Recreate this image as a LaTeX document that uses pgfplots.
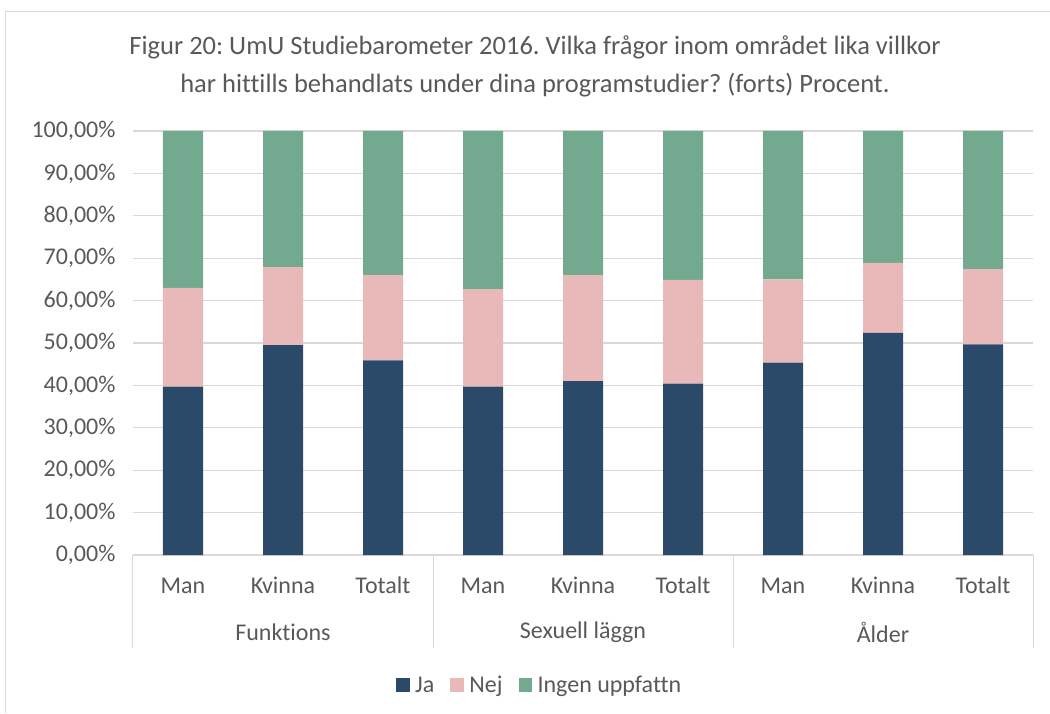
\documentclass[border=0pt]{standalone}
\usepackage{fontspec}
\setmainfont[Ligatures=CommonOff]{Carlito}
\usepackage{pgfplots}
\pgfplotsset{compat=1.18}
\definecolor{ja}{HTML}{2B4A69}
\definecolor{nej}{HTML}{E8B9B8}
\definecolor{ingen}{HTML}{73A98F}
\definecolor{txt}{HTML}{595959}
\definecolor{gridc}{HTML}{D9D9D9}
\frenchspacing
\begin{document}
\begin{tikzpicture}
\path[use as bounding box] (0,0) rectangle (1050pt,713pt);
\draw[gridc, line width=1pt] (5pt,0) -- (5pt,701pt) -- (1050pt,701pt);
\node[txt, align=center, font=\fontsize{26.5}{38}\selectfont] at (535pt,647pt)
  {Figur 20: UmU Studiebarometer 2016. Vilka frågor inom området lika villkor\\har hittills behandlats under dina programstudier? (forts) Procent.};
\begin{axis}[
  at={(133pt,158pt)}, anchor=south west,
  scale only axis, width=900pt, height=424pt,
  ybar stacked, bar width=40pt,
  xmin=-0.5, xmax=8.5, ymin=0, ymax=100,
  ytick={0,10,...,100},
  yticklabels={0{,}00\%,10{,}00\%,20{,}00\%,30{,}00\%,40{,}00\%,50{,}00\%,60{,}00\%,70{,}00\%,80{,}00\%,90{,}00\%,100{,}00\%},
  xtick={0,...,8},
  xticklabels={Man,Kvinna,Totalt,Man,Kvinna,Totalt,Man,Kvinna,Totalt},
  axis line style={draw=none},
  major tick length=0pt,
  ymajorgrids, grid style={gridc, line width=1.2pt},
  tick label style={txt, font=\fontsize{24}{29}\selectfont},
  xticklabel style={yshift=-18pt, text height=17pt, text depth=6pt},
  yticklabel style={xshift=-14pt},
  /pgf/number format/assume math mode=true,
  clip=false,
  legend style={at={(0.452,-0.307)}, anchor=center, draw=none, legend columns=-1,
    font=\fontsize{24}{29}\selectfont, text=txt,
    /tikz/every even column/.append style={column sep=14pt}},
  legend image code/.code={\fill[#1] (0pt,-6.5pt) rectangle (13.5pt,7pt); \path (17pt,0pt);},
]
\addplot[fill=ja, draw=none] coordinates {(0,39.7) (1,49.5) (2,45.9) (3,39.7) (4,41.0) (5,40.4) (6,45.4) (7,52.4) (8,49.7)};
\addplot[fill=nej, draw=none] coordinates {(0,23.3) (1,18.4) (2,20.1) (3,23.0) (4,25.0) (5,24.5) (6,19.6) (7,16.5) (8,17.7)};
\addplot[fill=ingen, draw=none] coordinates {(0,37.0) (1,32.1) (2,34.0) (3,37.3) (4,34.0) (5,35.1) (6,35.0) (7,31.1) (8,32.6)};
\legend{Ja,Nej,Ingen uppfattn}
\draw[gridc, line width=1pt] (axis cs:-0.5,0) -- ([yshift=-93pt]axis cs:-0.5,0);
\draw[gridc, line width=1pt] (axis cs:2.5,0) -- ([yshift=-93pt]axis cs:2.5,0);
\draw[gridc, line width=1pt] (axis cs:5.5,0) -- ([yshift=-93pt]axis cs:5.5,0);
\draw[gridc, line width=1pt] (axis cs:8.5,0) -- ([yshift=-93pt]axis cs:8.5,0);
\node[txt, font=\fontsize{24}{29}\selectfont] at ([yshift=-77pt]axis cs:1,0) {Funktions};
\node[txt, font=\fontsize{24}{29}\selectfont] at ([yshift=-77pt]axis cs:4,0) {Sexuell läggn};
\node[txt, font=\fontsize{24}{29}\selectfont] at ([yshift=-77pt]axis cs:7,0) {Ålder};
\end{axis}
\end{tikzpicture}
\end{document}
